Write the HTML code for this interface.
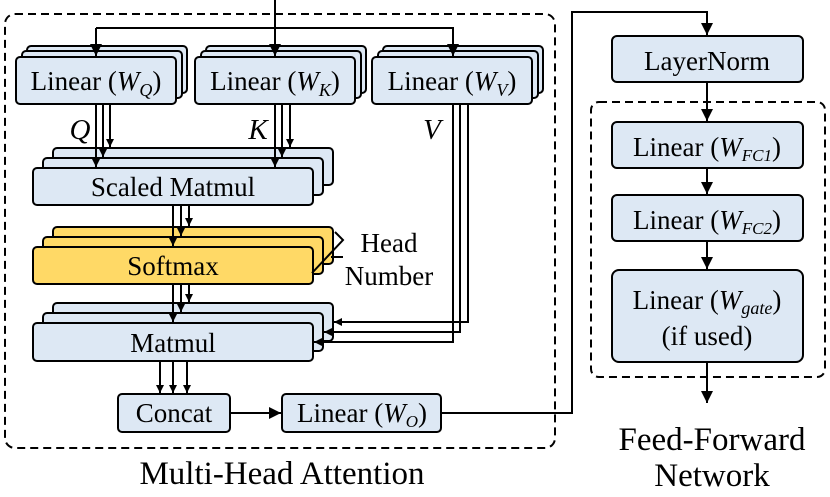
<!DOCTYPE html>
<html><head><meta charset="utf-8"><style>
html,body{margin:0;padding:0;background:#fff;}
svg{display:block;}
svg text{font-family:"Liberation Serif","Times New Roman",Times,serif;}
</style></head><body>
<svg width="830" height="497" viewBox="0 0 830 497" xmlns="http://www.w3.org/2000/svg">
<defs>
<marker id="a" viewBox="0 0 10 10" refX="10" refY="5" markerWidth="10" markerHeight="8" orient="auto" markerUnits="userSpaceOnUse"><path d="M0,0L10,5L0,10z" fill="#000"/></marker>
<marker id="b" viewBox="0 0 10 10" refX="10" refY="5" markerWidth="14" markerHeight="12" orient="auto" markerUnits="userSpaceOnUse"><path d="M0,0L10,5L0,10z" fill="#000"/></marker>
</defs>
<g fill="none" stroke="#000" stroke-width="2" stroke-dasharray="8,5">
<rect x="5" y="14" width="550" height="434" rx="10"/>
<rect x="591" y="102" width="234" height="275" rx="8"/>
</g>
<g stroke="#000" stroke-width="2" fill="#dde8f4">
<rect x="27" y="46" width="160" height="47" rx="4"/><rect x="22" y="51" width="160" height="47" rx="4"/><rect x="16" y="57" width="160" height="47" rx="4"/>
<rect x="206" y="46" width="160" height="47" rx="4"/><rect x="201" y="51" width="160" height="47" rx="4"/><rect x="195" y="57" width="160" height="47" rx="4"/>
<rect x="383" y="46" width="160" height="47" rx="4"/><rect x="378" y="51" width="160" height="47" rx="4"/><rect x="372" y="57" width="160" height="47" rx="4"/>
<rect x="53" y="148" width="280" height="37" rx="4"/><rect x="43" y="158" width="280" height="37" rx="4"/><rect x="33" y="168" width="280" height="37" rx="4"/>
<g fill="#ffd966"><rect x="53" y="227" width="280" height="37" rx="4"/><rect x="43" y="237" width="280" height="37" rx="4"/><rect x="33" y="247" width="280" height="37" rx="4"/></g>
<rect x="53" y="303" width="280" height="38" rx="4"/><rect x="43" y="313" width="280" height="38" rx="4"/><rect x="33" y="323" width="280" height="38" rx="4"/>
<rect x="118" y="394" width="112" height="38" rx="4"/>
<rect x="282" y="394" width="159" height="38" rx="4"/>
<rect x="612" y="36" width="191" height="46" rx="5"/>
<rect x="612" y="122" width="191" height="46" rx="5"/>
<rect x="612" y="195" width="191" height="46" rx="5"/>
<rect x="612" y="270" width="191" height="92" rx="7"/>
</g>
<g stroke="#000" stroke-width="2" fill="none">
<path d="M275,0V56" marker-end="url(#b)"/>
<path d="M96,28H453V56" marker-end="url(#b)"/>
<path d="M96,28V56" marker-end="url(#b)"/>
<path d="M96,104V167" marker-end="url(#a)"/><path d="M103,104V157" marker-end="url(#a)"/><path d="M110,104V147" marker-end="url(#a)"/>
<path d="M275,104V167" marker-end="url(#a)"/><path d="M282,104V157" marker-end="url(#a)"/><path d="M290,104V147" marker-end="url(#a)"/>
<path d="M173,205V246" marker-end="url(#a)"/><path d="M181,205V236" marker-end="url(#a)"/><path d="M189,205V226" marker-end="url(#a)"/>
<path d="M173,284V322" marker-end="url(#a)"/><path d="M181,284V312" marker-end="url(#a)"/><path d="M189,284V302" marker-end="url(#a)"/>
<path d="M468,104V322H334" marker-end="url(#a)"/><path d="M460,104V332H324" marker-end="url(#a)"/><path d="M453,104V342H314" marker-end="url(#a)"/>
<path d="M160,361V393" marker-end="url(#a)"/><path d="M173,361V393" marker-end="url(#a)"/><path d="M187,361V393" marker-end="url(#a)"/>
<path d="M230,413H281" marker-end="url(#b)"/>
<path d="M441,413H572V12H707V35" marker-end="url(#b)"/>
<path d="M707,82V121" marker-end="url(#b)"/>
<path d="M707,168V194" marker-end="url(#b)"/>
<path d="M707,241V269" marker-end="url(#b)"/>
<path d="M707,362V403" marker-end="url(#b)"/>
<path d="M335,232L343,240L312,273M331,257H343"/>
</g>
<g text-anchor="middle" fill="#000" font-size="27">
<text x="96" y="90">Linear (<tspan font-style="italic">W</tspan><tspan font-style="italic" font-size="18" dy="6">Q</tspan><tspan dy="-6">)</tspan></text>
<text x="275" y="90">Linear (<tspan font-style="italic">W</tspan><tspan font-style="italic" font-size="18" dy="6">K</tspan><tspan dy="-6">)</tspan></text>
<text x="452" y="90">Linear (<tspan font-style="italic">W</tspan><tspan font-style="italic" font-size="18" dy="6">V</tspan><tspan dy="-6">)</tspan></text>
<text x="80" y="139" font-style="italic" font-size="29">Q</text>
<text x="258" y="139" font-style="italic" font-size="29">K</text>
<text x="432" y="139" font-style="italic" font-size="29">V</text>
<text x="173" y="196">Scaled Matmul</text>
<text x="173" y="275">Softmax</text>
<text x="173" y="352">Matmul</text>
<text x="174" y="422">Concat</text>
<text x="362" y="422">Linear (<tspan font-style="italic">W</tspan><tspan font-style="italic" font-size="17" dy="5">O</tspan><tspan dy="-5">)</tspan></text>
<text x="389" y="252">Head</text>
<text x="389" y="285">Number</text>
<text x="707" y="70">LayerNorm</text>
<text x="707" y="156">Linear (<tspan font-style="italic">W</tspan><tspan font-style="italic" font-size="17" dy="5">FC1</tspan><tspan dy="-5">)</tspan></text>
<text x="707" y="229">Linear (<tspan font-style="italic">W</tspan><tspan font-style="italic" font-size="17" dy="5">FC2</tspan><tspan dy="-5">)</tspan></text>
<text x="707" y="309">Linear (<tspan font-style="italic">W</tspan><tspan font-style="italic" font-size="18" dy="5">gate</tspan><tspan dy="-5">)</tspan></text>
<text x="707" y="345">(if used)</text>
<text x="282" y="484" font-size="33">Multi-Head Attention</text>
<text x="712" y="450" font-size="33">Feed-Forward</text>
<text x="712" y="486" font-size="33">Network</text>
</g>
</svg>
</body></html>
